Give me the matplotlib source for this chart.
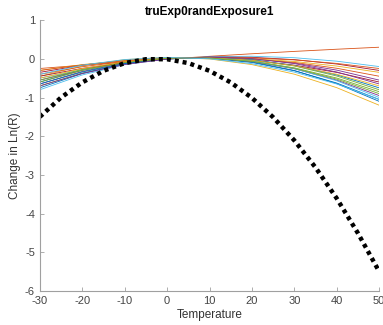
import matplotlib
matplotlib.use("Agg")
import matplotlib.pyplot as plt

plt.rcParams['font.family'] = ['Liberation Sans', 'DejaVu Sans']
plt.rcParams['axes.unicode_minus'] = False

# temperature grid for the sampled curves
temps = [-30, -20, -10, 0, 10, 20, 30, 40, 50]

# individual exposure curves
curves = [
    [-0.60, -0.289, -0.082, 0.019, 0.015, -0.094, -0.308, -0.626, -1.05],
    [-0.25, -0.164, -0.083, -0.006, 0.065, 0.131, 0.192, 0.248, 0.30],
    [-0.45, -0.185, -0.021, 0.038, -0.004, -0.149, -0.397, -0.746, -1.20],
    [-0.55, -0.292, -0.108, 0.003, 0.039, 0.002, -0.108, -0.292, -0.55],
    [-0.70, -0.369, -0.135, 0.000, 0.036, -0.025, -0.185, -0.444, -0.80],
    [-0.50, -0.285, -0.121, -0.007, 0.055, 0.067, 0.029, -0.061, -0.20],
    [-0.35, -0.164, -0.040, 0.022, 0.022, -0.040, -0.164, -0.351, -0.60],
    [-0.75, -0.380, -0.126, 0.007, 0.023, -0.080, -0.302, -0.641, -1.10],
    [-0.40, -0.205, -0.069, 0.012, 0.034, -0.001, -0.093, -0.244, -0.45],
    [-0.30, -0.149, -0.044, 0.016, 0.032, 0.004, -0.069, -0.187, -0.35],
    [-0.65, -0.327, -0.107, 0.010, 0.024, -0.065, -0.257, -0.552, -0.95],
    [-0.55, -0.273, -0.084, 0.015, 0.023, -0.060, -0.233, -0.497, -0.85],
    [-0.80, -0.417, -0.151, -0.002, 0.032, -0.051, -0.251, -0.567, -1.00],
    [-0.45, -0.247, -0.097, 0.000, 0.046, 0.039, -0.021, -0.134, -0.30],
    [-0.65, -0.340, -0.123, 0.002, 0.036, -0.023, -0.174, -0.415, -0.75],
    [-0.30, -0.158, -0.053, 0.012, 0.038, 0.025, -0.028, -0.119, -0.25],
    [-0.50, -0.251, -0.079, 0.013, 0.027, -0.037, -0.179, -0.400, -0.70],
    [-0.70, -0.379, -0.148, -0.007, 0.045, 0.006, -0.123, -0.341, -0.65],
    [-0.60, -0.299, -0.095, 0.013, 0.023, -0.063, -0.245, -0.525, -0.90],
    [-0.40, -0.164, -0.018, 0.037, 0.001, -0.126, -0.344, -0.651, -1.05],
]

# true response curve (black dotted)
true_temps = [-30, -25, -20, -15, -10, -5, 0, 5, 10, 15, 20, 25, 30, 35, 40, 45, 50]
true_vals = [-1.50, -1.00, -0.61, -0.31, -0.11, -0.01, -0.01, -0.11, -0.31,
             -0.61, -1.01, -1.51, -2.11, -2.81, -3.61, -4.51, -5.50]

xticks = [-30, -20, -10, 0, 10, 20, 30, 40, 50]
yticks = [-6, -5, -4, -3, -2, -1, 0, 1]

colors = ['#0072BD', '#D95319', '#EDB120', '#7E2F8E', '#77AC30', '#4DBEEE', '#A2142F']

fig = plt.figure(figsize=(3.83, 3.25), dpi=100)
ax = fig.add_axes([0.104, 0.105, 0.886, 0.833])

for i, c in enumerate(curves):
    ax.plot(temps, c, color=colors[i % len(colors)], linewidth=0.6)

ax.plot(true_temps, true_vals, color='black', linewidth=3.2, linestyle=(0, (0.9, 0.9)))

ax.set_xlim(-30, 50)
ax.set_ylim(-6, 1)
ax.set_xticks(xticks)
ax.set_yticks(yticks)

for s in ['top', 'right']:
    ax.spines[s].set_visible(False)
for s in ['left', 'bottom']:
    ax.spines[s].set_color('#a0a0a0')
    ax.spines[s].set_linewidth(0.8)

ax.tick_params(direction='in', length=3, width=0.6, color='#a0a0a0',
               labelsize=8, labelcolor='#444444')
ax.set_xlabel('Temperature', fontsize=8.5, color='#333333', labelpad=2)
ax.set_ylabel('Change in Ln(R)', fontsize=8.5, color='#333333', labelpad=3)
ax.set_title('truExp0randExposure1', fontsize=8.5, fontweight='bold', pad=4)

fig.savefig('out.png', dpi=100)
